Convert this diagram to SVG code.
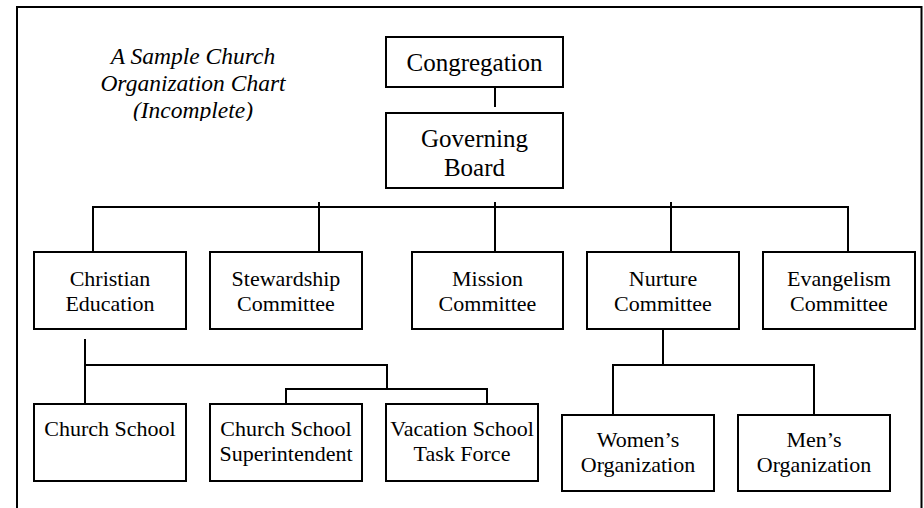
<svg xmlns="http://www.w3.org/2000/svg" width="924" height="508" viewBox="0 0 924 508">
<style>
  .box { fill: #fff; stroke: #000; stroke-width: 2; }
  .ln { fill: none; stroke: #000; stroke-width: 2; }
  text { font-family: "Liberation Serif", "Times New Roman", serif; fill: #000; text-anchor: middle; }
  .t1 { font-size: 25px; }
  .t2 { font-size: 22px; }
  .title { font-size: 23.5px; font-style: italic; }
</style>
<defs>
  <clipPath id="titleClip"><rect x="0" y="0" width="380" height="121"/></clipPath>
</defs>
<rect x="0" y="0" width="924" height="508" fill="#fff"/>
<g id="frame">
  <path class="ln" d="M17,508 V7 H921.5 V508"/>
</g>
<g id="title" clip-path="url(#titleClip)">
  <text class="title" x="193" y="64">A Sample Church</text>
  <text class="title" x="193" y="91">Organization Chart</text>
  <text class="title" x="193" y="118">(Incomplete)</text>
</g>
<g id="connectors">
  <path class="ln" d="M495,81 V107"/>
  <path class="ln" d="M93,252 V207 H848 V252"/>
  <path class="ln" d="M319,202 V252"/>
  <path class="ln" d="M495,202 V252"/>
  <path class="ln" d="M671,202 V252"/>
  <path class="ln" d="M85,339 V415"/>
  <path class="ln" d="M85,365 H387 V389"/>
  <path class="ln" d="M286,415 V389 H487 V415"/>
  <path class="ln" d="M663,329 V365"/>
  <path class="ln" d="M613,415 V365 H814 V415"/>
</g>
<g id="congregation">
  <rect class="box" x="386" y="37" width="177" height="50"/>
  <text class="t1" x="474.5" y="71">Congregation</text>
</g>
<g id="governing-board">
  <rect class="box" x="386" y="113" width="177" height="75"/>
  <text class="t1" x="474.5" y="147">Governing</text>
  <text class="t1" x="474.5" y="176">Board</text>
</g>
<g id="christian-education">
  <rect class="box" x="34" y="252" width="152" height="77"/>
  <text class="t2" x="110" y="286">Christian</text>
  <text class="t2" x="110" y="311">Education</text>
</g>
<g id="stewardship">
  <rect class="box" x="210" y="252" width="152" height="77"/>
  <text class="t2" x="286" y="286">Stewardship</text>
  <text class="t2" x="286" y="311">Committee</text>
</g>
<g id="mission">
  <rect class="box" x="412" y="252" width="151" height="77"/>
  <text class="t2" x="487.5" y="286">Mission</text>
  <text class="t2" x="487.5" y="311">Committee</text>
</g>
<g id="nurture">
  <rect class="box" x="587" y="252" width="152" height="77"/>
  <text class="t2" x="663" y="286">Nurture</text>
  <text class="t2" x="663" y="311">Committee</text>
</g>
<g id="evangelism">
  <rect class="box" x="763" y="252" width="152" height="77"/>
  <text class="t2" x="839" y="286">Evangelism</text>
  <text class="t2" x="839" y="311">Committee</text>
</g>
<g id="church-school">
  <rect class="box" x="34" y="404" width="152" height="77"/>
  <text class="t2" x="110" y="436">Church School</text>
</g>
<g id="superintendent">
  <rect class="box" x="210" y="404" width="152" height="77"/>
  <text class="t2" x="286" y="436">Church School</text>
  <text class="t2" x="286" y="461">Superintendent</text>
</g>
<g id="vacation-school">
  <rect class="box" x="386" y="404" width="152" height="77"/>
  <text class="t2" x="462" y="436">Vacation School</text>
  <text class="t2" x="462" y="461">Task Force</text>
</g>
<g id="womens">
  <rect class="box" x="562" y="415" width="152" height="76"/>
  <text class="t2" x="638" y="447">Women’s</text>
  <text class="t2" x="638" y="472">Organization</text>
</g>
<g id="mens">
  <rect class="box" x="738" y="415" width="152" height="76"/>
  <text class="t2" x="814" y="447">Men’s</text>
  <text class="t2" x="814" y="472">Organization</text>
</g>
</svg>
